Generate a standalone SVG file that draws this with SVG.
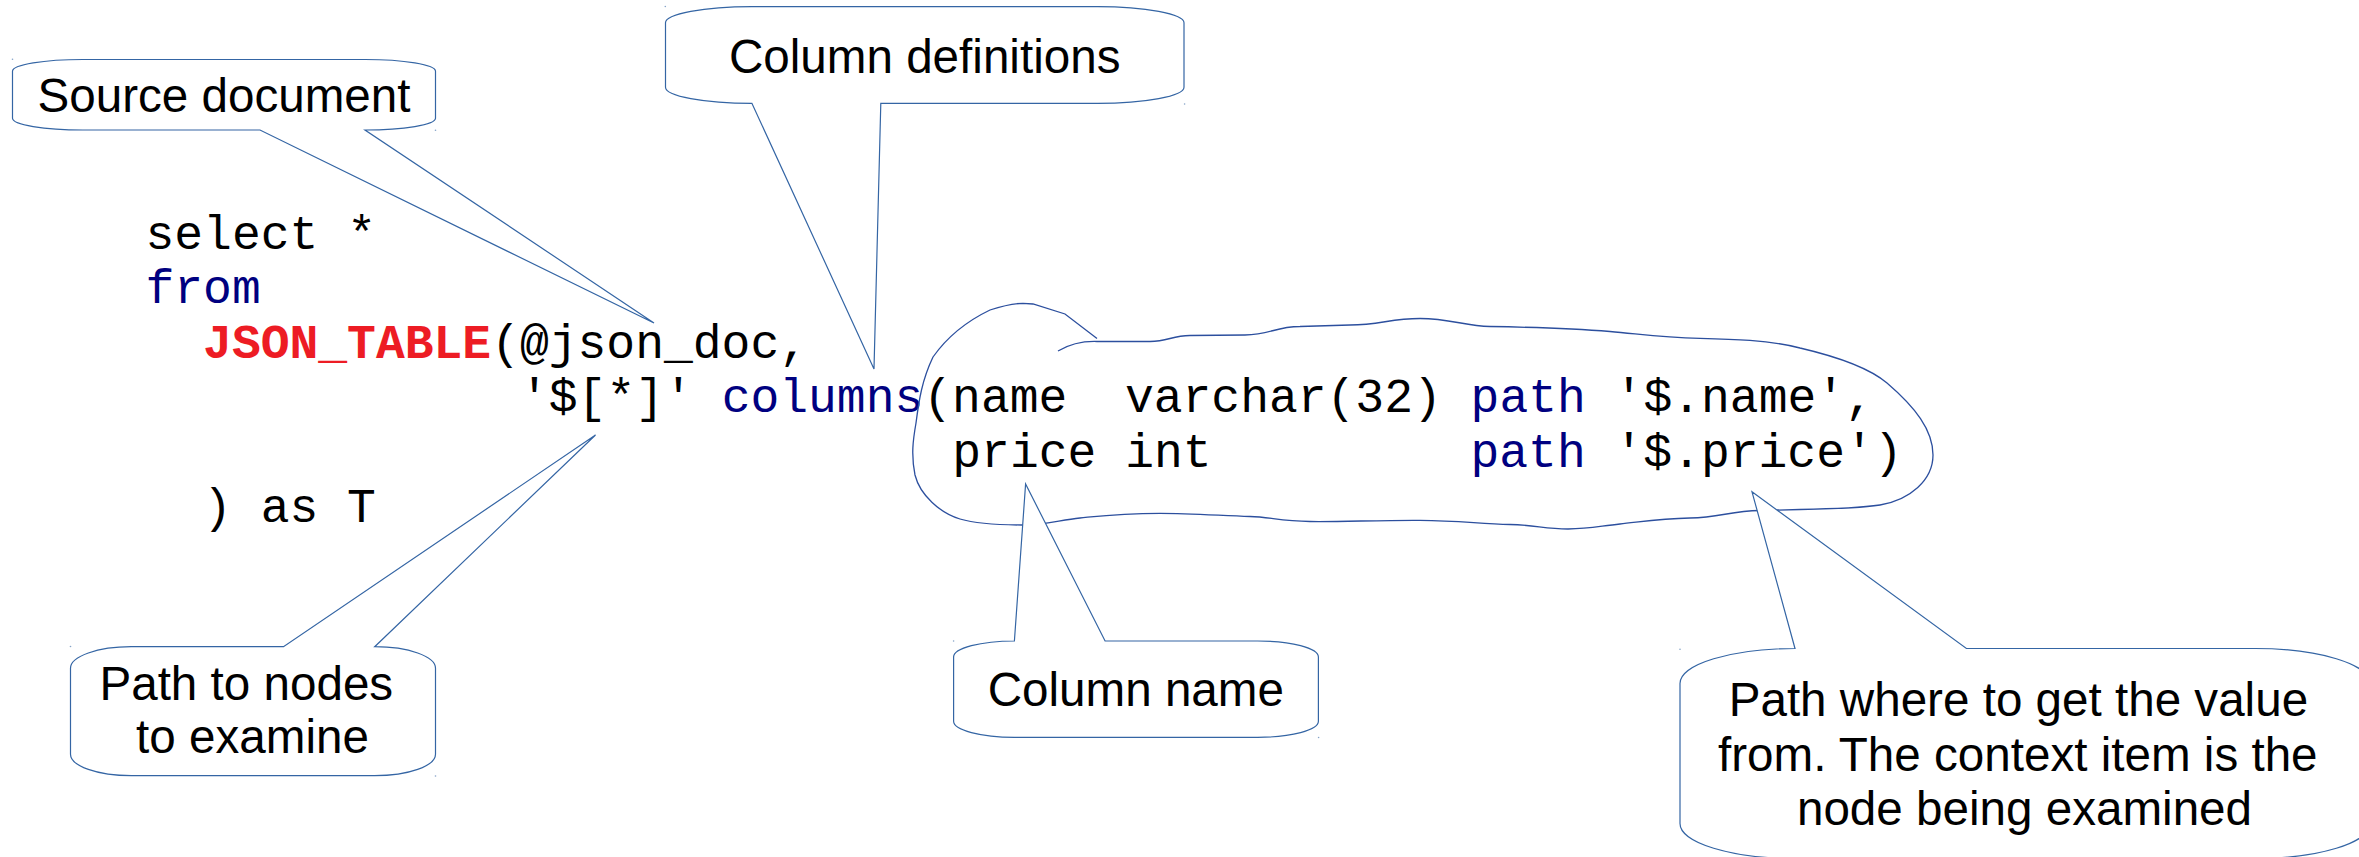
<svg xmlns="http://www.w3.org/2000/svg" width="2359" height="857" viewBox="0 0 2359 857">
<style>
.co{fill:#ffffff;stroke:#3465a4;stroke-width:1.2;stroke-linejoin:miter}
.cl{fill:none;stroke:#2c4f9e;stroke-width:1.3}
.lbl{font-family:"Liberation Sans",Arial,sans-serif;font-size:47.6px;fill:#000000;text-anchor:middle}
.code{font-family:"Liberation Mono","Courier New",monospace;font-size:48px;fill:#000000}
.kw{fill:#000080}
.fn{fill:#ed1c24;font-weight:bold}
.dot{fill:#3465a4;opacity:0.6}
</style>
<rect x="0" y="0" width="2359" height="857" fill="#ffffff"/>

<g id="code">
<text class="code" x="145.5" y="248.5">select *</text>
<text class="code" x="145.5" y="303.1"><tspan class="kw">from</tspan></text>
<text class="code" x="203.1" y="357.7"><tspan class="fn">JSON_TABLE</tspan>(@json_doc,</text>
<text class="code" x="520" y="412.3" xml:space="preserve">'$[*]' <tspan class="kw">columns</tspan>(name  varchar(32) <tspan class="kw">path</tspan> '$.name',</text>
<text class="code" x="952.3" y="466.9">price int</text>
<text class="code" x="1470.5" y="466.9"><tspan class="kw">path</tspan> '$.price')</text>
<text class="code" x="203.1" y="521.5">) as T</text>
</g>

<g id="connectors">
<path id="cloud" class="cl" d="M1058,351 C1070,344 1082,341 1097,341.5 L1150,341.5 C1168,341.5 1172,335.5 1190,335.5 L1245,335 C1270,335 1275,326.5 1300,326.5 L1350,325 C1380,325 1390,318.5 1420,318.5 C1450,318.5 1465,326 1490,326.5 C1520,327 1580,329 1610,331.5 C1640,334 1660,337.5 1700,338.3 C1730,339 1770,340 1800,348 C1830,355 1868,367 1887,383 C1915,407 1933,430 1933,455 C1933,480 1910,500 1880,505 C1860,508 1830,509 1800,509.5 L1760,510.5 C1730,511 1720,517.5 1690,518 C1660,518.5 1640,522 1620,524 C1600,526 1590,529 1568,529 C1545,529 1535,525 1510,524.5 C1480,524 1460,520.5 1420,520.3 C1380,520 1340,522 1310,521.5 C1280,521 1270,517 1250,516.5 C1220,515.5 1190,513.3 1160,513.3 C1120,513.3 1100,516 1080,518 C1060,520 1045,525 1022,525 C995,525 975,523.5 960,519 C940,513 920,495 915,475 C911,455 913,440 916,423 C919,400 922,380 933,357 C945,340 965,322 990,310 C1005,305 1015,303.3 1023,303.3 L1033,304 L1065,314 L1097,338.5"/>
</g>

<g id="source-document">
<path class="co" d="M83,59.5 H365 A70.5,11.75 0 0 1 435.5,71.25 V118.25 A70.5,11.75 0 0 1 365,130 L654,323 L260,130 H83 A70.5,11.75 0 0 1 12.5,118.25 V71.25 A70.5,11.75 0 0 1 83,59.5 Z"/>
<circle class="dot" cx="12.5" cy="59.3" r="0.8"/><circle class="dot" cx="435.5" cy="130.3" r="0.8"/>
<text class="lbl" x="224" y="111.7">Source document</text>
</g>

<g id="column-definitions">
<path class="co" d="M751.9,6.7 H1097.6 A86.4,16.1 0 0 1 1184,22.8 V87.2 A86.4,16.1 0 0 1 1097.6,103.3 H880.8 L874,369 L751.9,103.3 A86.4,16.1 0 0 1 665.5,87.2 V22.8 A86.4,16.1 0 0 1 751.9,6.7 Z"/>
<circle class="dot" cx="665.3" cy="6.5" r="0.8"/><circle class="dot" cx="1184.6" cy="104" r="0.8"/>
<text class="lbl" x="924.7" y="72.7">Column definitions</text>
</g>

<g id="path-to-nodes">
<path class="co" d="M131.3,646.7 H283.5 L595.5,435 L374.7,646.7 A60.8,21.5 0 0 1 435.5,668.2 V754.2 A60.8,21.5 0 0 1 374.7,775.7 H131.3 A60.8,21.5 0 0 1 70.5,754.2 V668.2 A60.8,21.5 0 0 1 131.3,646.7 Z"/>
<circle class="dot" cx="70.5" cy="646.5" r="0.8"/><circle class="dot" cx="435.5" cy="776" r="0.8"/>
<text class="lbl" x="246.3" y="700">Path to nodes</text>
<text class="lbl" x="252.5" y="753.3">to examine</text>
</g>

<g id="column-name">
<path class="co" d="M1014.4,641 L1025.6,484 L1105.1,641 H1257.6 A60.8,16 0 0 1 1318.4,657 V721.3 A60.8,16 0 0 1 1257.6,737.3 H1014.4 A60.8,16 0 0 1 953.6,721.3 V657 A60.8,16 0 0 1 1014.4,641 Z"/>
<circle class="dot" cx="953.6" cy="641" r="0.8"/><circle class="dot" cx="1318.6" cy="737.5" r="0.8"/>
<text class="lbl" x="1135.8" y="706">Column name</text>
</g>

<g id="path-value">
<path class="co" d="M1795,648.5 L1752,491.8 L1966.4,648.5 H2255 A115,35 0 0 1 2370,683.5 V823.5 A115,35 0 0 1 2255,858.5 H1795 A115,35 0 0 1 1680,823.5 V683.5 A115,35 0 0 1 1795,648.5 Z"/>
<circle class="dot" cx="1680" cy="649.3" r="0.8"/>
<text class="lbl" x="2018.4" y="716.3">Path where to get the value</text>
<text class="lbl" x="2017.8" y="770.7">from. The context item is the</text>
<text class="lbl" x="2024.5" y="824.7">node being examined</text>
</g>
</svg>
